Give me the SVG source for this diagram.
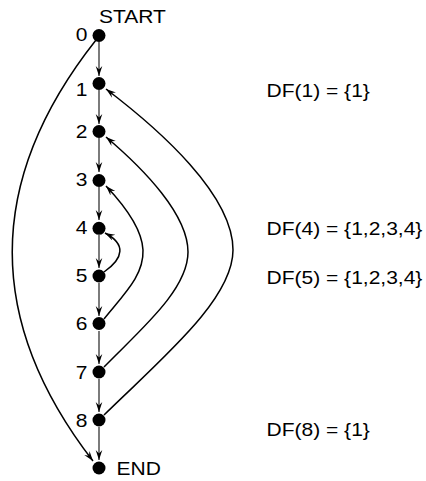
<svg xmlns="http://www.w3.org/2000/svg" width="426" height="481" viewBox="0 0 426 481">
<style>
text{font-family:"Liberation Sans",Arial,sans-serif;font-size:17.5px;fill:#000}
.n{fill:#000}
.v{stroke:#444;stroke-width:1.4;fill:none;marker-end:url(#a)}
.c{stroke:#000;stroke-width:1.5;fill:none;marker-end:url(#a)}
</style>
<defs>
<marker id="a" markerUnits="userSpaceOnUse" markerWidth="12" markerHeight="8" refX="10" refY="3.5" orient="auto">
<path d="M0,0.2 L10,3.5 L0,6.8 L3.5,3.5 z" fill="#000"/>
</marker>
</defs>
<g id="connectors">
<path class="v" d="M99,42 V76"/>
<path class="v" d="M99,90 V124"/>
<path class="v" d="M99,138 V172"/>
<path class="v" d="M99,187 V220"/>
<path class="v" d="M99,235 V268"/>
<path class="v" d="M99,283 V316"/>
<path class="v" d="M99,331 V364"/>
<path class="v" d="M99,379 V412"/>
<path class="v" d="M99,427 V460"/>
<path class="c" d="M96,40 Q-70,250 93,461"/>
<path class="c" d="M104,272 C124,258 126,244 105,233"/>
<path class="c" d="M104,319 C125,293 144,275 143,250 C142,228 124,205 106,186"/>
<path class="c" d="M104,367 C140,330 188,290 188,252 C188,215 145,170 106,137"/>
<path class="c" d="M104,415 C160,360 233,300 233,250 C233,195 160,130 106,89"/>
</g>
<g id="n0"><circle class="n" cx="99" cy="35.5" r="6.5"/><text transform="translate(87.5,41) scale(1.2,1)" text-anchor="end">0</text><text transform="translate(99,23) scale(1.2,1)">START</text></g>
<g id="n1"><circle class="n" cx="99" cy="83.5" r="6.5"/><text transform="translate(87.5,96) scale(1.2,1)" text-anchor="end">1</text></g>
<g id="n2"><circle class="n" cx="99" cy="131.5" r="6.5"/><text transform="translate(87.5,137.5) scale(1.2,1)" text-anchor="end">2</text></g>
<g id="n3"><circle class="n" cx="99" cy="180.5" r="6.5"/><text transform="translate(87.5,186) scale(1.2,1)" text-anchor="end">3</text></g>
<g id="n4"><circle class="n" cx="99" cy="228.3" r="6.5"/><text transform="translate(87.5,234) scale(1.2,1)" text-anchor="end">4</text></g>
<g id="n5"><circle class="n" cx="99" cy="276" r="6.5"/><text transform="translate(87.5,282.3) scale(1.2,1)" text-anchor="end">5</text></g>
<g id="n6"><circle class="n" cx="99" cy="323.5" r="6.5"/><text transform="translate(87.5,330) scale(1.2,1)" text-anchor="end">6</text></g>
<g id="n7"><circle class="n" cx="99" cy="372" r="6.5"/><text transform="translate(87.5,379) scale(1.2,1)" text-anchor="end">7</text></g>
<g id="n8"><circle class="n" cx="99" cy="420" r="6.5"/><text transform="translate(87.5,427) scale(1.2,1)" text-anchor="end">8</text></g>
<g id="end"><circle class="n" cx="99" cy="468" r="6.5"/><text transform="translate(116.6,475) scale(1.2,1)">END</text></g>
<g id="df">
<text transform="translate(266.6,97.3) scale(1.2,1)">DF(1) = {1}</text>
<text transform="translate(266.6,234.5) scale(1.2,1)">DF(4) = {1,2,3,4}</text>
<text transform="translate(266.6,284) scale(1.2,1)">DF(5) = {1,2,3,4}</text>
<text transform="translate(266.6,436) scale(1.2,1)">DF(8) = {1}</text>
</g>
</svg>
